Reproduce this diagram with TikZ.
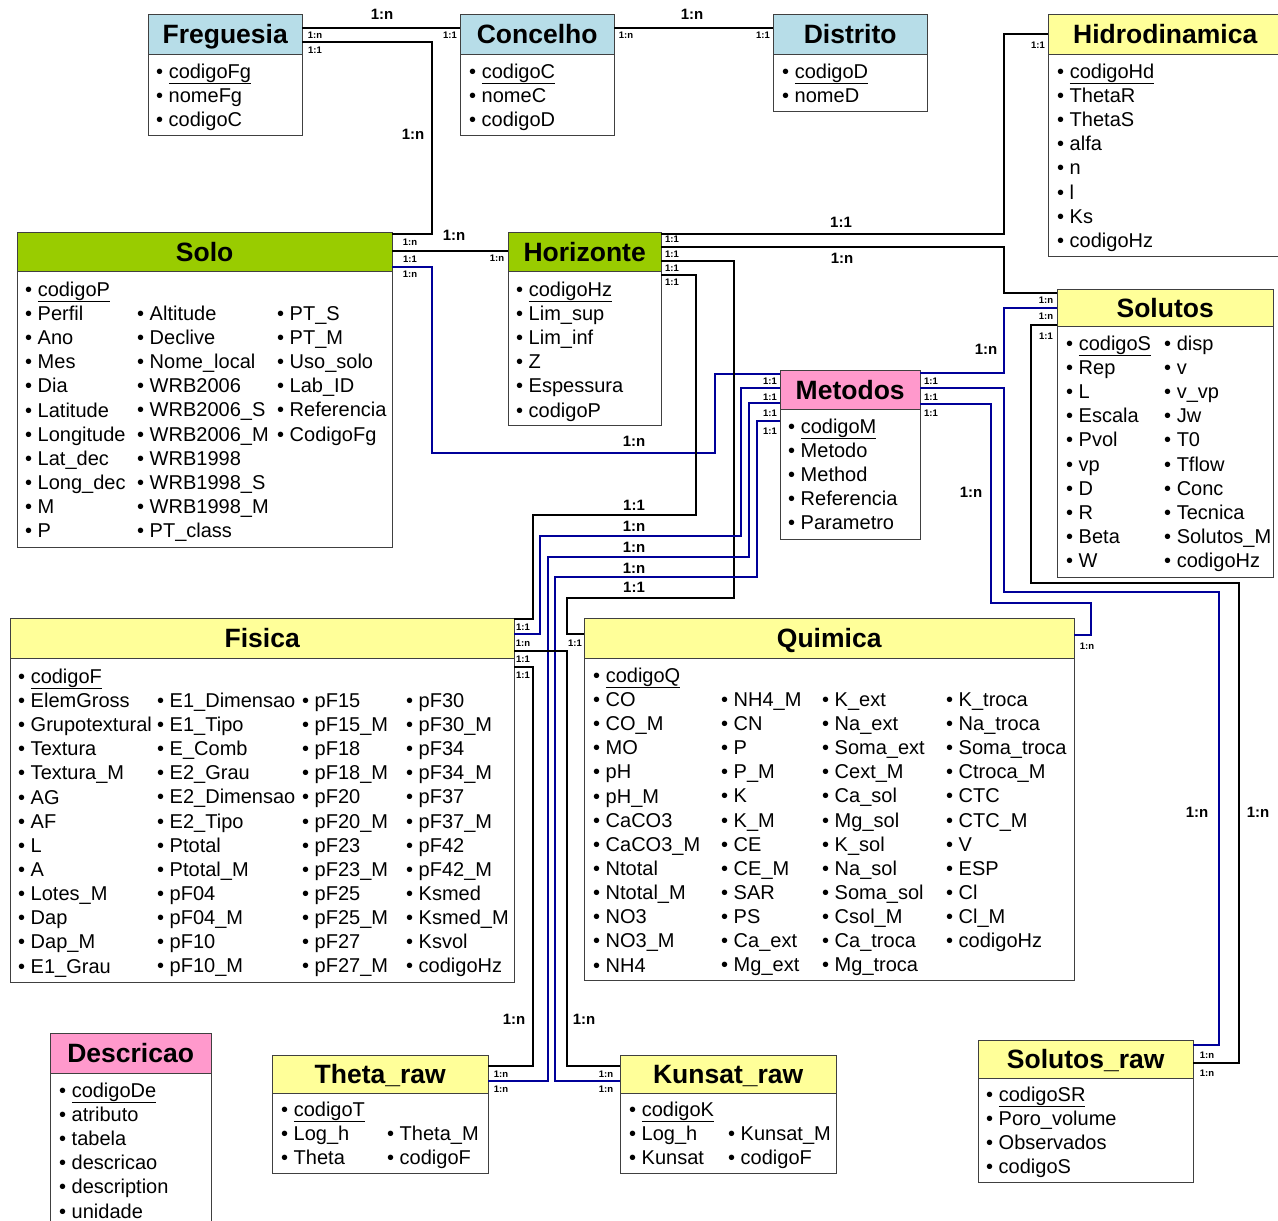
\documentclass[tikz,border=0pt]{standalone}
\usepackage{fontspec}
\setmainfont{Liberation Sans}
\usepackage{xcolor}

\definecolor{hdrblue}{HTML}{B7DDE8}
\definecolor{hdrgreen}{HTML}{99CC00}
\definecolor{hdryellow}{HTML}{FFFF99}
\definecolor{hdrpink}{HTML}{FF99CC}
\definecolor{relblue}{HTML}{000099}

\newcommand{\attrfont}{\fontsize{20}{24.15}\selectfont}
\newcommand{\titlefont}{\bfseries\fontsize{26.5}{30}\selectfont}
\newcommand{\cardfont}{\bfseries\fontsize{15}{18}\selectfont}
\newcommand{\cardsmfont}{\bfseries\fontsize{9.5}{11}\selectfont}
\newcommand{\bitem}{\strut\textbullet\ }
\newsavebox{\pkbox}
\newcommand{\pk}[1]{\sbox{\pkbox}{#1}\rlap{\rule[-6pt]{\wd\pkbox}{1.3pt}}\usebox{\pkbox}}

\begin{document}
\begin{tikzpicture}[x=1pt, y=-1pt,
    hdr/.style={draw=black!75, anchor=north west, inner sep=0pt, font=\titlefont,
      text height=19pt, text depth=0pt},
    bodybox/.style={draw=black!75, fill=white, anchor=north west, inner sep=0pt},
    attrs/.style={anchor=north west, inner sep=0pt, align=left, font=\attrfont},
    rel/.style={line width=2.6pt, black},
    relb/.style={line width=2.6pt, relblue},
    card/.style={font=\cardfont, inner sep=0pt},
    cardsm/.style={font=\cardsmfont, inner sep=0pt}]
  \useasboundingbox (0,0) rectangle (1278,1221);

  % entities
  \node[hdr, fill=hdrblue, minimum width=154pt, minimum height=40pt] (fregue) at (148,14) {Freguesia};
  \node[bodybox, minimum width=154pt, minimum height=81pt] (fregueB) at (148,54) {};
  \node[attrs] (fregueA) at (156,61.2) {\bitem\pk{codigoFg}\\ \bitem nomeFg\\ \bitem codigoC};

  \node[hdr, fill=hdrblue, minimum width=154pt, minimum height=40pt] (conce) at (460,14) {Concelho};
  \node[bodybox, minimum width=154pt, minimum height=81pt] (conceB) at (460,54) {};
  \node[attrs] (conceA) at (469,61.2) {\bitem\pk{codigoC}\\ \bitem nomeC\\ \bitem codigoD};

  \node[hdr, fill=hdrblue, minimum width=154pt, minimum height=40pt] (distr) at (773,14) {Distrito};
  \node[bodybox, minimum width=154pt, minimum height=57pt] (distrB) at (773,54) {};
  \node[attrs] (distrA) at (782,61.2) {\bitem\pk{codigoD}\\ \bitem nomeD};

  \node[hdr, fill=hdryellow, minimum width=234pt, minimum height=40pt] (hidro) at (1048,14) {Hidrodinamica};
  \node[bodybox, minimum width=234pt, minimum height=202pt] (hidroB) at (1048,54) {};
  \node[attrs] (hidroA) at (1057,61.2) {\bitem\pk{codigoHd}\\ \bitem ThetaR\\ \bitem ThetaS\\ \bitem alfa\\
    \bitem n\\ \bitem l\\ \bitem Ks\\ \bitem codigoHz};

  \node[hdr, fill=hdrgreen, minimum width=375pt, minimum height=39pt] (solo) at (17,232) {Solo};
  \node[bodybox, minimum width=375pt, minimum height=276pt] (soloB) at (17,271) {};
  \node[attrs] (soloA) at (25,279.2) {\bitem\pk{codigoP}\\ \bitem Perfil\\ \bitem Ano\\ \bitem Mes\\ \bitem Dia\\
    \bitem Latitude\\ \bitem Longitude\\ \bitem Lat\_dec\\ \bitem Long\_dec\\ \bitem M\\ \bitem P};
  \node[attrs] (soloC) at (137,303.2) {\bitem Altitude\\ \bitem Declive\\ \bitem Nome\_local\\ \bitem WRB2006\\
    \bitem WRB2006\_S\\ \bitem WRB2006\_M\\ \bitem WRB1998\\ \bitem WRB1998\_S\\ \bitem WRB1998\_M\\ \bitem PT\_class};
  \node[attrs] (soloD) at (277,303.2) {\bitem PT\_S\\ \bitem PT\_M\\ \bitem Uso\_solo\\ \bitem Lab\_ID\\
    \bitem Referencia\\ \bitem CodigoFg};

  \node[hdr, fill=hdrgreen, minimum width=153pt, minimum height=39pt] (horiz) at (508,232) {Horizonte};
  \node[bodybox, minimum width=153pt, minimum height=154pt] (horizB) at (508,271) {};
  \node[attrs] (horizA) at (516,279.2) {\bitem\pk{codigoHz}\\ \bitem Lim\_sup\\ \bitem Lim\_inf\\ \bitem Z\\
    \bitem Espessura\\ \bitem codigoP};

  \node[hdr, fill=hdrpink, minimum width=140pt, minimum height=39pt] (metod) at (780,370) {Metodos};
  \node[bodybox, minimum width=140pt, minimum height=130pt] (metodB) at (780,409) {};
  \node[attrs] (metodA) at (788,416.2) {\bitem\pk{codigoM}\\ \bitem Metodo\\ \bitem Method\\ \bitem Referencia\\
    \bitem Parametro};

  \node[hdr, fill=hdryellow, minimum width=216pt, minimum height=37pt] (solut) at (1057,289) {Solutos};
  \node[bodybox, minimum width=216pt, minimum height=251pt] (solutB) at (1057,326) {};
  \node[attrs] (solutA) at (1066,333.2) {\bitem\pk{codigoS}\\ \bitem Rep\\ \bitem L\\ \bitem Escala\\ \bitem Pvol\\
    \bitem vp\\ \bitem D\\ \bitem R\\ \bitem Beta\\ \bitem W};
  \node[attrs] (solutC) at (1164,333.2) {\bitem disp\\ \bitem v\\ \bitem v\_vp\\ \bitem Jw\\ \bitem T0\\
    \bitem Tflow\\ \bitem Conc\\ \bitem Tecnica\\ \bitem Solutos\_M\\ \bitem codigoHz};

  \node[hdr, fill=hdryellow, minimum width=504pt, minimum height=40pt] (fisic) at (10,618) {Fisica};
  \node[bodybox, minimum width=504pt, minimum height=324pt] (fisicB) at (10,658) {};
  \node[attrs] (fisicA) at (18,666.2) {\bitem\pk{codigoF}\\ \bitem ElemGross\\ \bitem Grupotextural\\ \bitem Textura\\
    \bitem Textura\_M\\ \bitem AG\\ \bitem AF\\ \bitem L\\ \bitem A\\ \bitem Lotes\_M\\ \bitem Dap\\ \bitem Dap\_M\\
    \bitem E1\_Grau};
  \node[attrs] (fisicC) at (157,690.2) {\bitem E1\_Dimensao\\ \bitem E1\_Tipo\\ \bitem E\_Comb\\ \bitem E2\_Grau\\
    \bitem E2\_Dimensao\\ \bitem E2\_Tipo\\ \bitem Ptotal\\ \bitem Ptotal\_M\\ \bitem pF04\\ \bitem pF04\_M\\
    \bitem pF10\\ \bitem pF10\_M};
  \node[attrs] (fisicD) at (302,690.2) {\bitem pF15\\ \bitem pF15\_M\\ \bitem pF18\\ \bitem pF18\_M\\ \bitem pF20\\
    \bitem pF20\_M\\ \bitem pF23\\ \bitem pF23\_M\\ \bitem pF25\\ \bitem pF25\_M\\ \bitem pF27\\ \bitem pF27\_M};
  \node[attrs] (fisicE) at (406,690.2) {\bitem pF30\\ \bitem pF30\_M\\ \bitem pF34\\ \bitem pF34\_M\\ \bitem pF37\\
    \bitem pF37\_M\\ \bitem pF42\\ \bitem pF42\_M\\ \bitem Ksmed\\ \bitem Ksmed\_M\\ \bitem Ksvol\\ \bitem codigoHz};

  \node[hdr, fill=hdryellow, minimum width=490pt, minimum height=40pt] (quimi) at (584,618) {Quimica};
  \node[bodybox, minimum width=490pt, minimum height=322pt] (quimiB) at (584,658) {};
  \node[attrs] (quimiA) at (593,665.2) {\bitem\pk{codigoQ}\\ \bitem CO\\ \bitem CO\_M\\ \bitem MO\\ \bitem pH\\
    \bitem pH\_M\\ \bitem CaCO3\\ \bitem CaCO3\_M\\ \bitem Ntotal\\ \bitem Ntotal\_M\\ \bitem NO3\\ \bitem NO3\_M\\
    \bitem NH4};
  \node[attrs] (quimiC) at (721,689.2) {\bitem NH4\_M\\ \bitem CN\\ \bitem P\\ \bitem P\_M\\ \bitem K\\ \bitem K\_M\\
    \bitem CE\\ \bitem CE\_M\\ \bitem SAR\\ \bitem PS\\ \bitem Ca\_ext\\ \bitem Mg\_ext};
  \node[attrs] (quimiD) at (822,689.2) {\bitem K\_ext\\ \bitem Na\_ext\\ \bitem Soma\_ext\\ \bitem Cext\_M\\
    \bitem Ca\_sol\\ \bitem Mg\_sol\\ \bitem K\_sol\\ \bitem Na\_sol\\ \bitem Soma\_sol\\ \bitem Csol\_M\\
    \bitem Ca\_troca\\ \bitem Mg\_troca};
  \node[attrs] (quimiE) at (946,689.2) {\bitem K\_troca\\ \bitem Na\_troca\\ \bitem Soma\_troca\\ \bitem Ctroca\_M\\
    \bitem CTC\\ \bitem CTC\_M\\ \bitem V\\ \bitem ESP\\ \bitem Cl\\ \bitem Cl\_M\\ \bitem codigoHz};

  \node[hdr, fill=hdrpink, minimum width=161pt, minimum height=40pt] (descr) at (50,1033) {Descricao};
  \node[bodybox, minimum width=161pt, minimum height=170pt] (descrB) at (50,1073) {};
  \node[attrs] (descrA) at (59,1080.2) {\bitem\pk{codigoDe}\\ \bitem atributo\\ \bitem tabela\\ \bitem descricao\\
    \bitem description\\ \bitem unidade};

  \node[hdr, fill=hdryellow, minimum width=216pt, minimum height=38pt] (theta) at (272,1055) {Theta\_raw};
  \node[bodybox, minimum width=216pt, minimum height=80pt] (thetaB) at (272,1093) {};
  \node[attrs] (thetaA) at (281,1099.2) {\bitem\pk{codigoT}\\ \bitem Log\_h\\ \bitem Theta};
  \node[attrs] (thetaC) at (387,1123.2) {\bitem Theta\_M\\ \bitem codigoF};

  \node[hdr, fill=hdryellow, minimum width=216pt, minimum height=38pt] (kunsa) at (620,1055) {Kunsat\_raw};
  \node[bodybox, minimum width=216pt, minimum height=80pt] (kunsaB) at (620,1093) {};
  \node[attrs] (kunsaA) at (629,1099.2) {\bitem\pk{codigoK}\\ \bitem Log\_h\\ \bitem Kunsat};
  \node[attrs] (kunsaC) at (728,1123.2) {\bitem Kunsat\_M\\ \bitem codigoF};

  \node[hdr, fill=hdryellow, minimum width=215pt, minimum height=38pt] (solraw) at (978,1040) {Solutos\_raw};
  \node[bodybox, minimum width=215pt, minimum height=104pt] (solrawB) at (978,1078) {};
  \node[attrs] (solrawA) at (986,1084.2) {\bitem\pk{codigoSR}\\ \bitem Poro\_volume\\ \bitem Observados\\ \bitem codigoS};

  % relations
  \draw[rel] (fregue.east |- 0,28) -- (conce.west |- 0,28);
  \draw[rel] (conce.east |- 0,28) -- (distr.west |- 0,28);
  \draw[rel] (fregue.east |- 0,42) -- (432,42) |- (solo.east |- 0,234);
  \draw[rel] (solo.east |- 0,251) -- (horiz.west |- 0,251);
  \draw[relb] (solo.east |- 0,267) -- (432,267) -- (432,453) -- (715,453) |- (metod.west |- 0,374);
  \draw[rel] (horiz.east |- 0,234) -- (1004,234) |- (hidro.west |- 0,34);
  \draw[rel] (horiz.east |- 0,247) -- (1004,247) |- (solut.west |- 0,293);
  \draw[rel] (horiz.east |- 0,261) -- (734,261) -- (734,598) -- (567,598) |- (quimi.west |- 0,634);
  \draw[rel] (horiz.east |- 0,275) -- (696,275) -- (696,515) -- (533,515) |- (fisic.east |- 0,619);
  \draw[relb] (metod.west |- 0,388) -- (741,388) -- (741,536) -- (540,536) |- (fisic.east |- 0,634);
  \draw[relb] (metod.west |- 0,403) -- (749,403) -- (749,557) -- (548,557) |- (theta.east |- 0,1081);
  \draw[relb] (metod.west |- 0,421) -- (757,421) -- (757,577) -- (555,577) |- (kunsa.west |- 0,1081);
  \draw[rel] (fisic.east |- 0,651) -- (567,651) |- (kunsa.west |- 0,1066);
  \draw[rel] (fisic.east |- 0,667) -- (533,667) |- (theta.east |- 0,1066);
  \draw[relb] (metod.east |- 0,373) -- (1004,373) |- (solut.west |- 0,308);
  \draw[relb] (metod.east |- 0,388) -- (1004,388) -- (1004,592) -- (1219,592) |- (solraw.east |- 0,1045);
  \draw[relb] (metod.east |- 0,404) -- (991,404) -- (991,603) -- (1091,603) |- (quimi.east |- 0,635);
  \draw[rel] (solut.west |- 0,325) -- (1031,325) -- (1031,583) -- (1239,583) |- (solraw.east |- 0,1063);

  % cardinalities on the lines
  \node[card] (c1) at (382,14) {1:n};
  \node[card] (c2) at (692,14) {1:n};
  \node[card] (c3) at (413,134) {1:n};
  \node[card] (c4) at (454,235) {1:n};
  \node[card] (c5) at (634,441) {1:n};
  \node[card] (c6) at (841,222) {1:1};
  \node[card] (c7) at (842,258) {1:n};
  \node[card] (c8) at (634,505) {1:1};
  \node[card] (c9) at (634,526) {1:n};
  \node[card] (c10) at (634,547) {1:n};
  \node[card] (c11) at (634,568) {1:n};
  \node[card] (c12) at (634,587) {1:1};
  \node[card] (c13) at (986,349) {1:n};
  \node[card] (c14) at (971,492) {1:n};
  \node[card] (c15) at (1197,812) {1:n};
  \node[card] (c16) at (1258,812) {1:n};
  \node[card] (c17) at (514,1019) {1:n};
  \node[card] (c18) at (584,1019) {1:n};

  % cardinalities at the ends
  \node[cardsm] (s1) at (315,35) {1:n};
  \node[cardsm] (s2) at (315,50) {1:1};
  \node[cardsm] (s3) at (450,35) {1:1};
  \node[cardsm] (s4) at (626,35) {1:n};
  \node[cardsm] (s5) at (763,35) {1:1};
  \node[cardsm] (s6) at (1038,45) {1:1};
  \node[cardsm] (s7) at (410,242) {1:n};
  \node[cardsm] (s8) at (410,259) {1:1};
  \node[cardsm] (s9) at (410,274) {1:n};
  \node[cardsm] (s10) at (497,258) {1:n};
  \node[cardsm] (s11) at (672,239) {1:1};
  \node[cardsm] (s12) at (672,254) {1:1};
  \node[cardsm] (s13) at (672,268) {1:1};
  \node[cardsm] (s14) at (672,282) {1:1};
  \node[cardsm] (s15) at (770,381) {1:1};
  \node[cardsm] (s16) at (770,397) {1:1};
  \node[cardsm] (s17) at (770,413) {1:1};
  \node[cardsm] (s18) at (770,431) {1:1};
  \node[cardsm] (s19) at (931,381) {1:1};
  \node[cardsm] (s20) at (931,397) {1:1};
  \node[cardsm] (s21) at (931,413) {1:1};
  \node[cardsm] (s22) at (1046,300) {1:n};
  \node[cardsm] (s23) at (1046,316) {1:n};
  \node[cardsm] (s24) at (1046,336) {1:1};
  \node[cardsm] (s25) at (523,627) {1:1};
  \node[cardsm] (s26) at (523,643) {1:n};
  \node[cardsm] (s27) at (523,659) {1:1};
  \node[cardsm] (s28) at (523,675) {1:1};
  \node[cardsm] (s29) at (575,643) {1:1};
  \node[cardsm] (s30) at (1087,646) {1:n};
  \node[cardsm] (s31) at (501,1074) {1:n};
  \node[cardsm] (s32) at (501,1089) {1:n};
  \node[cardsm] (s33) at (606,1074) {1:n};
  \node[cardsm] (s34) at (606,1089) {1:n};
  \node[cardsm] (s35) at (1207,1055) {1:n};
  \node[cardsm] (s36) at (1207,1073) {1:n};
\end{tikzpicture}
\end{document}
